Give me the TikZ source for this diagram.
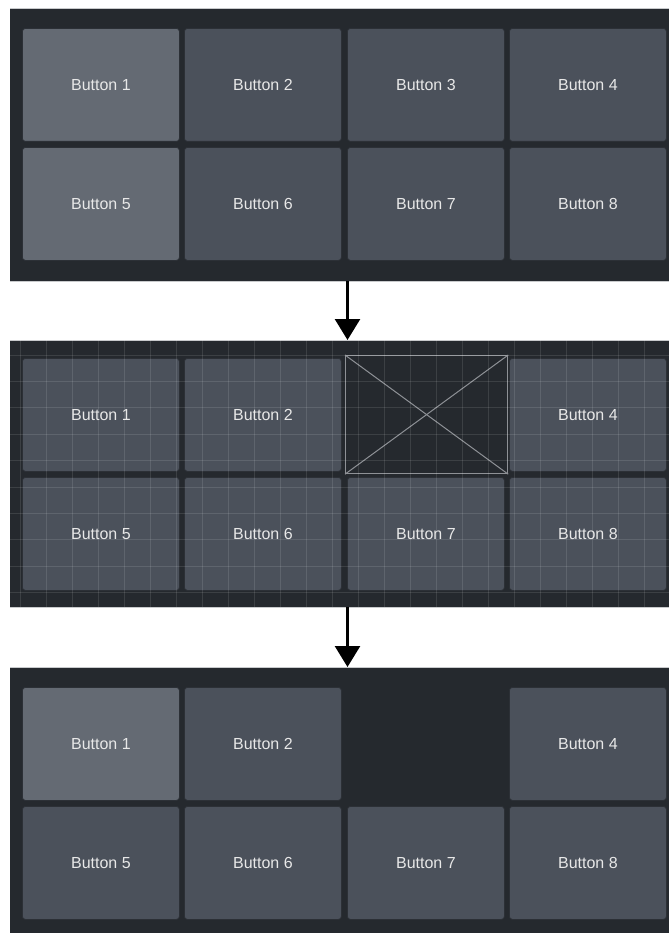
\documentclass[tikz,border=0pt]{standalone}
\usepackage{fontspec}
\setmainfont{Liberation Sans}
\usetikzlibrary{arrows.meta}
\definecolor{panelbg}{HTML}{25292E}
\definecolor{btn}{HTML}{4B515B}
\definecolor{btnhi}{HTML}{646A73}
\definecolor{btnedge}{HTML}{2C3036}
\definecolor{btntext}{HTML}{E8E8E8}
\definecolor{rimline}{HTML}{C8CACC}
\definecolor{phline}{HTML}{8E9196}
\begin{document}
\begin{tikzpicture}[x=1pt,y=-1pt,
  panel/.style={fill=panelbg,anchor=north west,inner sep=0pt,minimum width=659pt},
  rim/.style={draw=rimline,line width=0.8pt},
  button/.style={fill=btn,draw=btnedge,line width=0.8pt,rounded corners=3pt,anchor=north west,
    minimum width=157pt,minimum height=113pt,inner sep=0pt,text=btntext,
    text height=11.5pt,text depth=0pt,
    font=\fontsize{16}{19}\selectfont},
  hi/.style={fill=btnhi},
  gridline/.style={draw=white,draw opacity=0.11,line width=0.8pt},
  placeholder/.style={draw=phline,line width=1.2pt,fill=panelbg,anchor=north west,
    minimum width=162pt,minimum height=118pt,inner sep=0pt},
  arr/.style={-{Triangle[width=25pt,length=21pt]},line width=2.6pt,black}]
\useasboundingbox (0,0) rectangle (669,933);

% ---------- Panel 1 ----------
\node[panel,minimum height=273pt] (p1) at (10,8) {};
\draw[rim] (p1.north west) -- (p1.north east);
\draw[rim] (p1.south west) -- (p1.south east);
\node[button,hi] (a1) at (22,28) {Button 1};
\node[button] (a2) at (184,28) {Button 2};
\node[button] (a3) at (347,28) {Button 3};
\node[button] (a4) at (509,28) {Button 4};
\node[button,hi] (a5) at (22,147) {Button 5};
\node[button] (a6) at (184,147) {Button 6};
\node[button] (a7) at (347,147) {Button 7};
\node[button] (a8) at (509,147) {Button 8};

% ---------- Panel 2 ----------
\node[panel,minimum height=267pt] (p2) at (10,340) {};
\draw[rim] (p2.north west) -- (p2.north east);
\draw[rim] (p2.south west) -- (p2.south east);
\node[button] (b1) at (22,358) {Button 1};
\node[button] (b2) at (184,358) {Button 2};
\node[placeholder] (ph) at (345,355) {};
\draw[phline,line width=1pt] (ph.north west) -- (ph.south east);
\draw[phline,line width=1pt] (ph.north east) -- (ph.south west);
\node[button] (b4) at (509,358) {Button 4};
\node[button] (b5) at (22,477) {Button 5};
\node[button] (b6) at (184,477) {Button 6};
\node[button] (b7) at (347,477) {Button 7};
\node[button] (b8) at (509,477) {Button 8};
\begin{scope}
  \clip (10,340) rectangle (669,607);
  \foreach \i in {0,...,25} \draw[gridline] ({20.7+26*\i},340) -- ({20.7+26*\i},607);
  \foreach \j in {0,...,9} \draw[gridline] (10,{355+26.4*\j}) -- (669,{355+26.4*\j});
\end{scope}

% ---------- Panel 3 ----------
\node[panel,minimum height=266pt] (p3) at (10,667) {};
\draw[rim] (p3.north west) -- (p3.north east);
\node[button,hi] (c1) at (22,687) {Button 1};
\node[button] (c2) at (184,687) {Button 2};
\node[button] (c4) at (509,687) {Button 4};
\node[button] (c5) at (22,806) {Button 5};
\node[button] (c6) at (184,806) {Button 6};
\node[button] (c7) at (347,806) {Button 7};
\node[button] (c8) at (509,806) {Button 8};

% ---------- Arrows ----------
\coordinate (ax) at (347.5,0);
\draw[arr] (p1.south -| ax) -- (p2.north -| ax);
\draw[arr] (p2.south -| ax) -- (p3.north -| ax);
\end{tikzpicture}
\end{document}
